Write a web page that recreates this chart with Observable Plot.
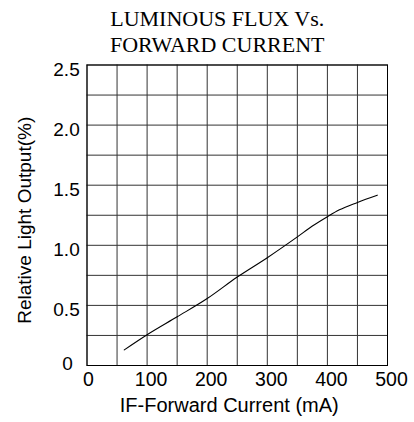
<!DOCTYPE html>
<html>
<head>
<meta charset="utf-8">
<script src="https://cdn.jsdelivr.net/npm/d3@7"></script>
<script src="https://cdn.jsdelivr.net/npm/@observablehq/plot@0.6"></script>
<style>
  html, body { margin: 0; padding: 0; background: #fff; }
  #chart svg { display: block; }
</style>
</head>
<body>
<div id="chart"></div>
<script>
// Data
const current = [62, 100, 150, 200, 250, 300, 350, 375, 400, 420, 450, 483];          // mA
const lightOutput = [0.13, 0.256, 0.405, 0.557, 0.736, 0.897, 1.07, 1.16, 1.238, 1.295, 1.357, 1.417];

const xGrid = [0, 50, 100, 150, 200, 250, 300, 350, 400, 450, 500];
const yGrid = [0, 0.25, 0.5, 0.75, 1, 1.25, 1.5, 1.75, 2, 2.25, 2.5];
const xTicks = [0, 100, 200, 300, 400, 500];
const xTickLabels = ["0", "100", "200", "300", "400", "500"];
const yTicks = [0, 0.5, 1, 1.5, 2, 2.5];
const yTickLabels = ["0", "0.5", "1.0", "1.5", "2.0", "2.5"];

const titleText = "LUMINOUS FLUX Vs.\nFORWARD CURRENT";
const xTitle = "IF-Forward Current (mA)";
const yTitle = "Relative Light Output(%)";

const series = current.map((c, i) => ({current: c, output: lightOutput[i]}));
const xTickData = xTicks.map((v, i) => ({v, label: xTickLabels[i]}));
const yTickData = yTicks.map((v, i) => ({v, label: yTickLabels[i]}));

const sans = "'Liberation Sans', Arial, Helvetica, sans-serif";
const serif = "'Liberation Serif', 'Times New Roman', Times, serif";

const chart = Plot.plot({
  width: 414,
  height: 422,
  marginLeft: 86.5,
  marginRight: 27,
  marginTop: 64.5,
  marginBottom: 57,
  style: {background: "#fff", fontFamily: sans, color: "#000", overflow: "visible"},
  x: {domain: [0, 500], axis: null},
  y: {domain: [0, 2.5], axis: null},
  marks: [
    Plot.ruleX(xGrid, {stroke: "#333", strokeWidth: 1}),
    Plot.ruleY(yGrid, {stroke: "#333", strokeWidth: 1}),
    Plot.frame({stroke: "#000", strokeWidth: 1}),
    Plot.line(series, {x: "current", y: "output", stroke: "#000", strokeWidth: 1.1, curve: "monotone-x"}),
    // x tick labels
    Plot.text(xTickData.filter(d => d.v !== 0), {x: "v", text: "label", frameAnchor: "bottom", dx: 4, dy: 14, fontSize: 19.5, fontFamily: sans, fill: "#000", textAnchor: "middle", lineAnchor: "middle"}),
    Plot.text(xTickData.filter(d => d.v === 0), {x: "v", text: "label", frameAnchor: "bottom", dx: 1.5, dy: 14, fontSize: 19.5, fontFamily: sans, fill: "#000", textAnchor: "middle", lineAnchor: "middle"}),
    // y tick labels (centered, like the reference)
    Plot.text(yTickData.filter(d => d.v !== 0), {y: "v", text: "label", frameAnchor: "left", dx: -20.5, dy: 4.5, fontSize: 19, fontFamily: sans, fill: "#000", textAnchor: "middle", lineAnchor: "middle"}),
    Plot.text(yTickData.filter(d => d.v === 0), {y: "v", text: "label", frameAnchor: "left", dx: -19.5, dy: -1.5, fontSize: 19, fontFamily: sans, fill: "#000", textAnchor: "middle", lineAnchor: "middle"}),
    // axis titles
    Plot.text([xTitle], {text: d => d, frameAnchor: "bottom", dx: -8, dy: 40, fontSize: 20, fontFamily: sans, fill: "#000", textAnchor: "middle", lineAnchor: "middle"}),
    Plot.text([yTitle], {text: d => d, frameAnchor: "left", dx: -62, dy: 5, rotate: -90, fontSize: 19, fontFamily: sans, fill: "#000", textAnchor: "middle", lineAnchor: "middle"}),
    // chart title
    Plot.text([titleText], {text: d => d, frameAnchor: "top", dx: -20, dy: -12.8, fontSize: 22, fontFamily: serif, fill: "#000", textAnchor: "middle", lineAnchor: "bottom", lineHeight: 1.17})
  ]
});

document.getElementById("chart").append(chart);
</script>
</body>
</html>
